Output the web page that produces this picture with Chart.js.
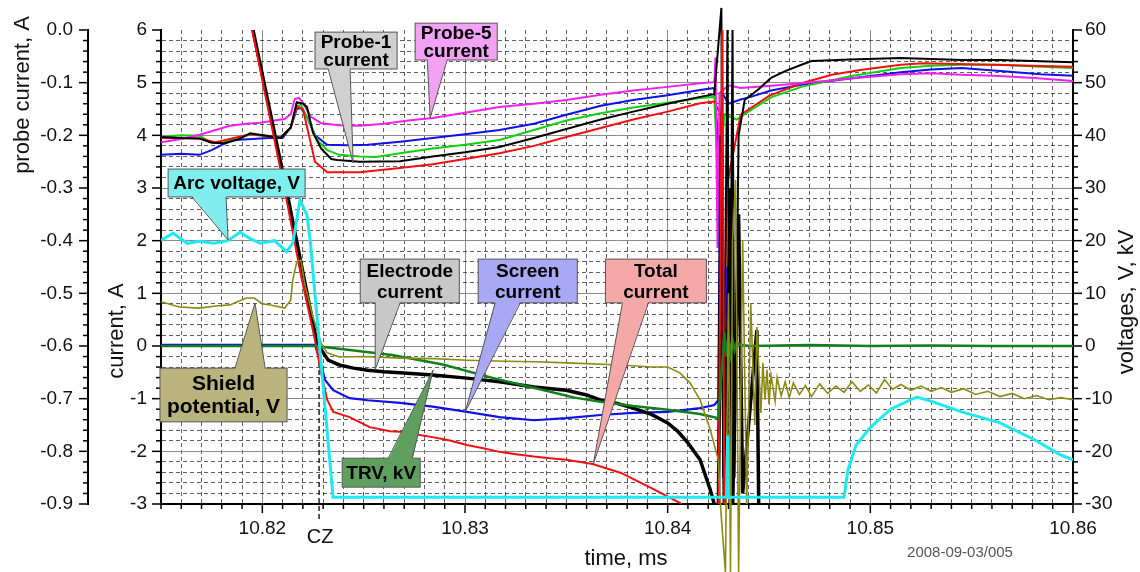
<!DOCTYPE html>
<html>
<head>
<meta charset="utf-8">
<script src="https://cdn.jsdelivr.net/npm/chart.js@4.4.1/dist/chart.umd.min.js"></script>
<style>
  html, body { margin: 0; padding: 0; background: #fff; }
  #wrap { width: 1140px; height: 572px; position: relative; }
</style>
</head>
<body>
<div id="wrap"><canvas id="chart"></canvas></div>
<script>
// tick labels
const timeLabels = [10.82, 10.83, 10.84, 10.85, 10.86];
const currentLabels = [-3, -2, -1, 0, 1, 2, 3, 4, 5, 6];
const probeLabels = [-0.9, -0.8, -0.7, -0.6, -0.5, -0.4, -0.3, -0.2, -0.1, 0];
const voltLabels = [-30, -20, -10, 0, 10, 20, 30, 40, 50, 60];
const czTime = 10.8228;

// probe currents, A (far left axis)
const probe5Time = [10.8150, 10.8160, 10.8169, 10.8177, 10.8184, 10.8192, 10.8199, 10.8206, 10.8211, 10.8214, 10.8216, 10.8218, 10.8220, 10.8224, 10.8229, 10.8238, 10.8248, 10.8260, 10.8272, 10.8284, 10.8300, 10.8317, 10.8334, 10.8350, 10.8367, 10.8383, 10.8400, 10.8416, 10.8423, 10.84236, 10.84246, 10.84256, 10.8430, 10.8436, 10.8451, 10.8466, 10.8490, 10.8515, 10.8530, 10.8545, 10.8561, 10.8581, 10.8600];
const probe5Amp = [-0.213, -0.207, -0.199, -0.190, -0.182, -0.178, -0.176, -0.172, -0.169, -0.160, -0.131, -0.129, -0.138, -0.165, -0.177, -0.181, -0.182, -0.178, -0.172, -0.167, -0.157, -0.146, -0.140, -0.133, -0.123, -0.115, -0.108, -0.101, -0.099, -0.052, -0.414, -0.120, -0.105, -0.110, -0.106, -0.101, -0.092, -0.084, -0.082, -0.085, -0.087, -0.091, -0.097];

const probeBlueTime = [10.8150, 10.8160, 10.8169, 10.8175, 10.8180, 10.8186, 10.8195, 10.8203, 10.8210, 10.8214, 10.8217, 10.8219, 10.8222, 10.8226, 10.8232, 10.8242, 10.8252, 10.8268, 10.8284, 10.8300, 10.8317, 10.8334, 10.8350, 10.8367, 10.8383, 10.8400, 10.8416, 10.8423, 10.84255, 10.8427, 10.8430, 10.8436, 10.8441, 10.8451, 10.8466, 10.8490, 10.8515, 10.8530, 10.8545, 10.8564, 10.8584, 10.8600];
const probeBlueAmp = [-0.237, -0.235, -0.237, -0.228, -0.218, -0.209, -0.207, -0.205, -0.205, -0.185, -0.150, -0.148, -0.165, -0.200, -0.218, -0.219, -0.218, -0.212, -0.205, -0.198, -0.190, -0.178, -0.161, -0.144, -0.133, -0.124, -0.114, -0.110, -0.240, -0.120, -0.140, -0.132, -0.127, -0.115, -0.104, -0.092, -0.080, -0.075, -0.072, -0.078, -0.084, -0.087];

const probeGreenTime = [10.8150, 10.8160, 10.8169, 10.8174, 10.8180, 10.8187, 10.8194, 10.8202, 10.8209, 10.8214, 10.8217, 10.8219, 10.8222, 10.8227, 10.8232, 10.8238, 10.8248, 10.8256, 10.8268, 10.8284, 10.8300, 10.8317, 10.8334, 10.8350, 10.8367, 10.8383, 10.8400, 10.8416, 10.8423, 10.8425, 10.8428, 10.8434, 10.8441, 10.8451, 10.8466, 10.8490, 10.8515, 10.8530, 10.8545, 10.8564, 10.8584, 10.8600];
const probeGreenAmp = [-0.203, -0.200, -0.201, -0.212, -0.215, -0.206, -0.199, -0.201, -0.203, -0.185, -0.145, -0.142, -0.165, -0.209, -0.228, -0.237, -0.240, -0.241, -0.234, -0.225, -0.218, -0.209, -0.190, -0.172, -0.158, -0.147, -0.138, -0.129, -0.127, -0.300, -0.160, -0.170, -0.152, -0.128, -0.108, -0.088, -0.072, -0.068, -0.066, -0.066, -0.070, -0.072];

const probe1Time = [10.8150, 10.8160, 10.8169, 10.8175, 10.8181, 10.8188, 10.8194, 10.8202, 10.8209, 10.8214, 10.8217, 10.8220, 10.8222, 10.8225, 10.8229, 10.8234, 10.8237, 10.8248, 10.8268, 10.8284, 10.8300, 10.8317, 10.8334, 10.8350, 10.8367, 10.8383, 10.8400, 10.8416, 10.8423, 10.84265, 10.84275, 10.84295, 10.84305, 10.8432, 10.8433, 10.8435, 10.8438, 10.8445, 10.8451, 10.8458, 10.8466, 10.8471, 10.8490, 10.8515, 10.8545, 10.8564, 10.8600];
const probe1Amp = [-0.203, -0.205, -0.206, -0.214, -0.215, -0.208, -0.196, -0.201, -0.205, -0.185, -0.137, -0.140, -0.146, -0.195, -0.225, -0.245, -0.247, -0.250, -0.249, -0.240, -0.232, -0.222, -0.205, -0.188, -0.170, -0.155, -0.140, -0.127, -0.122, 0.042, -0.850, 0.000, -0.800, 0.000, -0.850, -0.200, -0.133, -0.112, -0.091, -0.078, -0.066, -0.059, -0.056, -0.053, -0.057, -0.057, -0.061];

const probeRedTime = [10.8150, 10.8169, 10.8177, 10.8194, 10.8209, 10.8214, 10.8217, 10.8220, 10.8223, 10.8226, 10.8232, 10.8248, 10.8268, 10.8284, 10.8300, 10.8317, 10.8334, 10.8350, 10.8367, 10.8383, 10.8400, 10.8416, 10.8423, 10.8426, 10.84275, 10.8429, 10.8436, 10.8450, 10.8466, 10.8481, 10.8495, 10.8515, 10.8526, 10.8560, 10.8600];
const probeRedAmp = [-0.205, -0.206, -0.213, -0.198, -0.204, -0.186, -0.145, -0.150, -0.200, -0.250, -0.270, -0.270, -0.262, -0.255, -0.245, -0.234, -0.220, -0.203, -0.186, -0.170, -0.155, -0.139, -0.136, -0.160, -0.850, -0.300, -0.161, -0.125, -0.101, -0.085, -0.076, -0.066, -0.063, -0.066, -0.070];

// currents, A (left axis)
const totalTime = [10.8180, 10.8195, 10.8212, 10.8219, 10.8226, 10.8229, 10.8232, 10.8235, 10.8243, 10.8253, 10.8263, 10.8268, 10.8276, 10.8284, 10.8292, 10.8301, 10.8309, 10.8317, 10.8326, 10.8334, 10.8342, 10.8350, 10.8363, 10.8377, 10.8392, 10.8406, 10.8412, 10.8425, 10.8427, 10.8428];
const totalAmp = [8.7, 6.0, 2.77, 1.35, 0.11, -0.51, -1.02, -1.25, -1.35, -1.54, -1.62, -1.63, -1.68, -1.73, -1.79, -1.88, -1.94, -2.01, -2.06, -2.10, -2.13, -2.16, -2.24, -2.41, -2.70, -2.98, -3.20, -3.50, 6.5, -3.5];

const electrodeTime = [10.8180, 10.81955, 10.8213, 10.8220, 10.8227, 10.82325, 10.8238, 10.8245, 10.8252, 10.8260, 10.8268, 10.8284, 10.8301, 10.8317, 10.8334, 10.8350, 10.8360, 10.8367, 10.8375, 10.8383, 10.8392, 10.8400, 10.8405, 10.8410, 10.8416, 10.8421, 10.8423, 10.8425, 10.84265, 10.8428, 10.8431, 10.8432, 10.8435, 10.8437, 10.8444, 10.8445];
const electrodeAmp = [8.7, 5.98, 2.75, 1.40, 0.05, -0.27, -0.36, -0.42, -0.46, -0.49, -0.51, -0.55, -0.61, -0.68, -0.78, -0.84, -0.93, -1.03, -1.09, -1.18, -1.30, -1.46, -1.62, -1.84, -2.16, -2.73, -3.00, -3.30, 4.0, -3.20, 3.0, -3.20, 2.5, -2.8, 0.3, -3.3];

const screenTime = [10.8150, 10.8226, 10.8229, 10.8231, 10.8235, 10.8243, 10.8252, 10.8268, 10.8284, 10.8301, 10.8317, 10.8334, 10.8350, 10.8367, 10.8383, 10.8400, 10.8416, 10.8423, 10.8425, 10.8426, 10.84275, 10.8429, 10.8430, 10.8432];
const screenAmp = [0.02, 0.02, -0.35, -0.65, -0.84, -0.99, -1.03, -1.08, -1.15, -1.25, -1.35, -1.41, -1.37, -1.31, -1.27, -1.25, -1.18, -1.12, -1.03, 4.0, -1.40, 1.5, 0.2, 0.0];

// voltages, V / kV (right axis)
const trvTime = [10.8150, 10.8226, 10.8240, 10.8264, 10.8289, 10.8314, 10.8340, 10.8354, 10.8367, 10.8383, 10.8400, 10.8416, 10.8425, 10.8426, 10.8427, 10.8428, 10.8429, 10.8430, 10.8431, 10.8432, 10.8433, 10.8434, 10.8436, 10.8441, 10.8470, 10.8500, 10.8530, 10.8560, 10.8600];
const trvKv = [0.0, 0.0, -0.6, -1.7, -3.5, -6.1, -8.5, -9.8, -10.6, -11.4, -12.1, -12.9, -13.7, -8.0, -3.0, 2.5, -2.0, 1.8, -1.5, 1.2, -0.8, 0.6, 0.2, 0.0, 0.2, 0.0, 0.1, 0.0, 0.0];

const arcTime = [10.8150, 10.8156, 10.8163, 10.8169, 10.8176, 10.8183, 10.8189, 10.8194, 10.8199, 10.8206, 10.8212, 10.8215, 10.8217, 10.82186, 10.8222, 10.82236, 10.82285, 10.82349, 10.8425, 10.8429, 10.84295, 10.8430, 10.8487, 10.8489, 10.8493, 10.8500, 10.8510, 10.8520, 10.8523, 10.8531, 10.8545, 10.8564, 10.8581, 10.8594, 10.8600];
const arcVolt = [20.1, 21.4, 19.5, 19.9, 19.5, 20.0, 21.6, 20.4, 19.5, 20.0, 17.9, 19.5, 24.0, 27.7, 24.9, 20.1, -1.1, -28.7, -28.7, -28.7, -17.0, -28.7, -28.7, -23.5, -18.8, -15.5, -12.0, -10.2, -9.7, -10.6, -12.5, -14.6, -17.8, -20.7, -21.6];

const shieldTime = [10.8150, 10.8159, 10.8169, 10.8177, 10.8184, 10.8192, 10.8196, 10.8200, 10.8204, 10.8211, 10.8214, 10.8215, 10.8217, 10.8219, 10.8221, 10.8225, 10.8229, 10.8232, 10.8238, 10.8250, 10.8268, 10.8285, 10.8301, 10.8320, 10.8335, 10.8350, 10.8377, 10.8392, 10.8400, 10.8406, 10.8411, 10.8416, 10.8421, 10.8425, 10.8426, 10.84285, 10.8430, 10.8431, 10.8432, 10.84335, 10.8435, 10.8437, 10.8439, 10.8441, 10.8443, 10.8444, 10.8446, 10.8447, 10.8448, 10.8449, 10.8450, 10.8451, 10.8453, 10.8454, 10.8456, 10.8458, 10.8460, 10.8462, 10.8465, 10.8468, 10.8471, 10.8475, 10.8479, 10.8483, 10.8487, 10.8491, 10.8495, 10.8499, 10.8503, 10.8507, 10.8511, 10.8515, 10.8520, 10.8525, 10.8530, 10.8535, 10.8540, 10.8546, 10.8552, 10.8558, 10.8564, 10.8570, 10.8576, 10.8582, 10.8588, 10.8594, 10.8600];
const shieldVolt = [8.4, 7.4, 7.2, 7.6, 7.8, 9.1, 9.1, 8.0, 7.8, 7.2, 8.7, 12.5, 16.0, 16.3, 11.6, 5.5, 0.6, -1.3, -2.1, -2.0, -2.3, -2.4, -2.7, -2.9, -3.0, -3.2, -3.6, -4.0, -4.0, -5.1, -7.0, -10.2, -15.9, -21.6, -30.0, -43.0, 10.0, -43.0, 20.0, 31.5, -43.0, 20.0, -30.0, 8.0, -15.0, 3.6, -12.7, -3.2, -10.2, -4.5, -11.0, -5.5, -10.5, -6.0, -9.5, -6.8, -9.8, -7.0, -9.2, -7.5, -9.6, -7.2, -9.0, -7.6, -8.8, -6.8, -8.6, -7.4, -8.9, -6.4, -8.2, -7.3, -8.4, -7.6, -8.6, -7.9, -8.8, -8.1, -9.2, -8.6, -9.6, -9.0, -10.0, -9.4, -10.2, -9.8, -10.2];

// callouts: box [t1, t2, top, bottom] and wedge in time / current units
const callouts = [
  { lines: ['Probe-1', 'current'], fill: '#d0d0d0', size: 19, gap: 18, box: [10.8226, 10.82665, 5.96, 5.26], base: [10.82325, 10.82433], tip: [10.82448, 3.475] },
  { lines: ['Probe-5', 'current'], fill: '#f2a2f2', size: 19, gap: 18, box: [10.82754, 10.83159, 6.13, 5.43], base: [10.82814, 10.82912], tip: [10.82828, 4.33] },
  { lines: ['Arc voltage, V'], fill: '#80eeee', size: 19, gap: 0, box: [10.81535, 10.82211, 3.36, 2.83], base: [10.81653, 10.81821], tip: [10.81831, 2.013] },
  { lines: ['Shield', 'potential, V'], fill: '#b9b47e', size: 21, gap: 23, box: [10.81495, 10.82122, -0.42, -1.44], base: [10.81865, 10.82014], tip: [10.81964, 0.817] },
  { lines: ['Electrode', 'current'], fill: '#c8c8c8', size: 19, gap: 21, box: [10.82483, 10.82972, 1.65, 0.82], base: [10.82557, 10.8268], tip: [10.82557, -0.45] },
  { lines: ['Screen', 'current'], fill: '#a8a8f4', size: 19, gap: 21, box: [10.83065, 10.83554, 1.65, 0.82], base: [10.83149, 10.83273], tip: [10.83001, -1.253] },
  { lines: ['Total', 'current'], fill: '#f5a8a8', size: 19, gap: 21, box: [10.83693, 10.84191, 1.65, 0.82], base: [10.83777, 10.83905], tip: [10.83633, -2.24] },
  { lines: ['TRV, kV'], fill: '#5f9f5f', size: 19, gap: 0, box: [10.82394, 10.82779, -2.13, -2.68], base: [10.82621, 10.8274], tip: [10.82843, -0.456] }
];

const FONT = '"Liberation Sans", Arial, sans-serif';

document.addEventListener('DOMContentLoaded', function() {
  Chart.defaults.font.family = FONT;
  initChart();
});

function pts(t, v) {
  return t.map((x, i) => ({ x: x, y: v[i] }));
}

function stepTicks(min, max, step, dec) {
  const out = [];
  const n = Math.round((max - min) / step);
  for (let i = 0; i <= n; i++) out.push(+(min + i * step).toFixed(dec));
  return out;
}

function isMajor(v, list) {
  return list.some(m => Math.abs(m - v) < 1e-7);
}

const timeTicks = stepTicks(10.815, 10.86, 0.001, 3);
const currentTicks = stepTicks(-3, 6, 0.2, 1);
const probeTicks = stepTicks(-0.9, 0, 0.02, 2);
const voltTicks = stepTicks(-30, 60, 2, 0);

function line(label, t, v, axis, color, width, extra) {
  return Object.assign({
    label: label,
    data: pts(t, v),
    yAxisID: axis,
    borderColor: color,
    borderWidth: width,
    pointRadius: 0,
    tension: 0,
    fill: false
  }, extra || {});
}

function gridColor(majors, skip) {
  return ctx => {
    if (!ctx.tick) return 'transparent';
    const v = ctx.tick.value;
    if (skip !== undefined && Math.abs(v - skip) < 1e-7) return 'transparent';
    return isMajor(v, majors) ? '#8a8a8a' : 'rgba(30,30,30,0.7)';
  };
}

function gridDash(majors) {
  return ctx => (ctx.tick && !isMajor(ctx.tick.value, majors)) ? [4, 3] : [];
}

const tickFont = { size: 19 };

const overlayPlugin = {
  id: 'overlay',
  beforeDatasetsDraw(chart) {
    drawTickMarks(chart);
    drawCzLine(chart);
  },
  afterDatasetsDraw(chart) {
    drawCallouts(chart);
  },
  afterDraw(chart) {
    drawTitles(chart);
  }
};

function drawTickMarks(chart) {
  const ctx = chart.ctx;
  const s = chart.scales;
  const sets = [
    { scale: s.x, majors: timeLabels, side: 'bottom' },
    { scale: s.y, majors: currentLabels, side: 'left' },
    { scale: s.probe, majors: probeLabels, side: 'left' },
    { scale: s.volt, majors: voltLabels, side: 'right' }
  ];
  ctx.save();
  ctx.strokeStyle = '#000';
  ctx.lineWidth = 1.5;
  sets.forEach(set => {
    const sc = set.scale;
    sc.ticks.forEach(t => {
      const len = isMajor(t.value, set.majors) ? 9 : 5;
      const p = sc.getPixelForValue(t.value);
      ctx.beginPath();
      if (set.side === 'bottom') {
        ctx.moveTo(p, sc.top);
        ctx.lineTo(p, sc.top + len);
      } else if (set.side === 'left') {
        ctx.moveTo(sc.right, p);
        ctx.lineTo(sc.right - len, p);
      } else {
        ctx.moveTo(sc.left, p);
        ctx.lineTo(sc.left + len, p);
      }
      ctx.stroke();
    });
  });
  ctx.restore();
}

function drawCzLine(chart) {
  const ctx = chart.ctx;
  const x = chart.scales.x.getPixelForValue(czTime);
  ctx.save();
  ctx.strokeStyle = '#222';
  ctx.lineWidth = 1.5;
  ctx.setLineDash([5, 3]);
  ctx.beginPath();
  ctx.moveTo(x, chart.scales.y.getPixelForValue(0));
  ctx.lineTo(x, chart.chartArea.bottom + 16);
  ctx.stroke();
  ctx.restore();
}

function drawCallouts(chart) {
  const ctx = chart.ctx;
  const X = v => chart.scales.x.getPixelForValue(v);
  const Y = v => chart.scales.y.getPixelForValue(v);
  ctx.save();
  callouts.forEach(c => {
    const x1 = X(c.box[0]), x2 = X(c.box[1]);
    const y1 = Y(c.box[2]), y2 = Y(c.box[3]);
    const tx = X(c.tip[0]), ty = Y(c.tip[1]);
    const below = ty > y2;
    const by = below ? y2 : y1;
    const inner = below ? -1.5 : 1.5;
    const b1 = X(c.base[0]), b2 = X(c.base[1]);

    // box
    ctx.fillStyle = c.fill;
    ctx.strokeStyle = '#555';
    ctx.lineWidth = 1;
    ctx.fillRect(x1, y1, x2 - x1, y2 - y1);
    ctx.strokeRect(x1, y1, x2 - x1, y2 - y1);

    // pointer wedge, merged into the box
    ctx.beginPath();
    ctx.moveTo(b1, by + inner);
    ctx.lineTo(tx, ty);
    ctx.lineTo(b2, by + inner);
    ctx.closePath();
    ctx.fill();
    ctx.beginPath();
    ctx.moveTo(b1, by);
    ctx.lineTo(tx, ty);
    ctx.lineTo(b2, by);
    ctx.stroke();

    // text
    ctx.fillStyle = '#000';
    ctx.font = 'bold ' + c.size + 'px ' + FONT;
    ctx.textAlign = 'center';
    ctx.textBaseline = 'middle';
    const cx = (x1 + x2) / 2, cy = (y1 + y2) / 2 + 1;
    const n = c.lines.length;
    c.lines.forEach((txt, i) => {
      ctx.fillText(txt, cx, cy + (i - (n - 1) / 2) * c.gap);
    });
  });
  ctx.restore();
}

function vertical(ctx, text, x, y) {
  ctx.save();
  ctx.translate(x, y);
  ctx.rotate(-Math.PI / 2);
  ctx.fillText(text, 0, 0);
  ctx.restore();
}

function drawTitles(chart) {
  const ctx = chart.ctx;
  const area = chart.chartArea;
  ctx.save();
  ctx.fillStyle = '#111';
  ctx.textAlign = 'center';
  ctx.textBaseline = 'middle';
  ctx.font = '22px ' + FONT;
  vertical(ctx, 'probe current, A', 23, area.top + 65);
  vertical(ctx, 'current, A', 117, area.top + 301);
  vertical(ctx, 'voltages, V, kV', area.right + 54, area.top + 272);
  ctx.fillText('time, ms', 626, area.bottom + 55);

  ctx.font = '20px ' + FONT;
  ctx.fillText('CZ', chart.scales.x.getPixelForValue(czTime) + 1, area.bottom + 33);

  ctx.font = '15px ' + FONT;
  ctx.fillStyle = '#555';
  ctx.fillText('2008-09-03/005', 960, area.bottom + 49);
  ctx.restore();
}

function initChart() {
  const ctx = document.getElementById('chart').getContext('2d');
  new Chart(ctx, {
    type: 'line',
    data: {
      datasets: [
        line('Arc voltage, V', arcTime, arcVolt, 'volt', '#1ee8f0', 3),
        line('Shield potential, V', shieldTime, shieldVolt, 'volt', '#8c8a12', 1.6, { clip: { left: 0, top: 0, right: 0, bottom: 70 } }),
        line('TRV, kV', trvTime, trvKv, 'volt', '#12801a', 2.5),
        line('Total current', totalTime, totalAmp, 'y', '#f01010', 2),
        line('Electrode current', electrodeTime, electrodeAmp, 'y', '#000000', 3.5),
        line('Screen current', screenTime, screenAmp, 'y', '#1010e8', 2.2),
        line('Probe-1 current', probe1Time, probe1Amp, 'probe', '#000000', 2, { clip: { left: 0, top: 25, right: 0, bottom: 0 } }),
        line('Probe-5 current', probe5Time, probe5Amp, 'probe', '#f020f0', 2),
        line('Probe red', probeRedTime, probeRedAmp, 'probe', '#f01010', 2),
        line('Probe green', probeGreenTime, probeGreenAmp, 'probe', '#10d010', 2),
        line('Probe blue', probeBlueTime, probeBlueAmp, 'probe', '#1010e8', 2)
      ]
    },
    options: {
      responsive: true,
      maintainAspectRatio: false,
      animation: false,
      events: [],
      layout: { padding: { top: 30, left: 0, right: 0, bottom: 0 } },
      plugins: {
        legend: { display: false },
        tooltip: { enabled: false }
      },
      scales: {
        x: {
          type: 'linear',
          position: 'bottom',
          min: 10.815,
          max: 10.86,
          afterBuildTicks: s => { s.ticks = timeTicks.map(v => ({ value: v })); },
          afterFit: s => { s.height = 68; },
          ticks: {
            autoSkip: false,
            maxRotation: 0,
            padding: 13,
            color: '#111',
            font: tickFont,
            callback: v => isMajor(v, timeLabels) ? v.toFixed(2) : ''
          },
          grid: { drawTicks: false, color: gridColor(timeLabels), lineWidth: 1 },
          border: { color: '#000', width: 2, dash: gridDash(timeLabels) }
        },
        probe: {
          type: 'linear',
          position: 'left',
          weight: 1,
          min: -0.9,
          max: 0,
          afterBuildTicks: s => { s.ticks = probeTicks.map(v => ({ value: v })); },
          afterFit: s => { s.width = 88; },
          ticks: {
            autoSkip: false,
            padding: 15,
            color: '#111',
            font: tickFont,
            callback: v => isMajor(v, probeLabels) ? v.toFixed(1) : ''
          },
          grid: { drawOnChartArea: false, drawTicks: false },
          border: { color: '#000', width: 2 }
        },
        y: {
          type: 'linear',
          position: 'left',
          weight: 0,
          min: -3,
          max: 6,
          afterBuildTicks: s => { s.ticks = currentTicks.map(v => ({ value: v })); },
          afterFit: s => { s.width = 73; },
          ticks: {
            autoSkip: false,
            padding: 14,
            color: '#111',
            font: tickFont,
            callback: v => isMajor(v, currentLabels) ? String(Math.round(v)) : ''
          },
          grid: { drawTicks: false, color: gridColor(currentLabels, 6), lineWidth: 1 },
          border: { color: '#000', width: 2, dash: gridDash(currentLabels) }
        },
        volt: {
          type: 'linear',
          position: 'right',
          min: -30,
          max: 60,
          afterBuildTicks: s => { s.ticks = voltTicks.map(v => ({ value: v })); },
          afterFit: s => { s.width = 67; },
          ticks: {
            autoSkip: false,
            padding: 12,
            color: '#111',
            font: tickFont,
            callback: v => isMajor(v, voltLabels) ? String(Math.round(v)) : ''
          },
          grid: { drawOnChartArea: false, drawTicks: false },
          border: { color: '#000', width: 2 }
        }
      }
    },
    plugins: [overlayPlugin]
  });
}
</script>
</body>
</html>
